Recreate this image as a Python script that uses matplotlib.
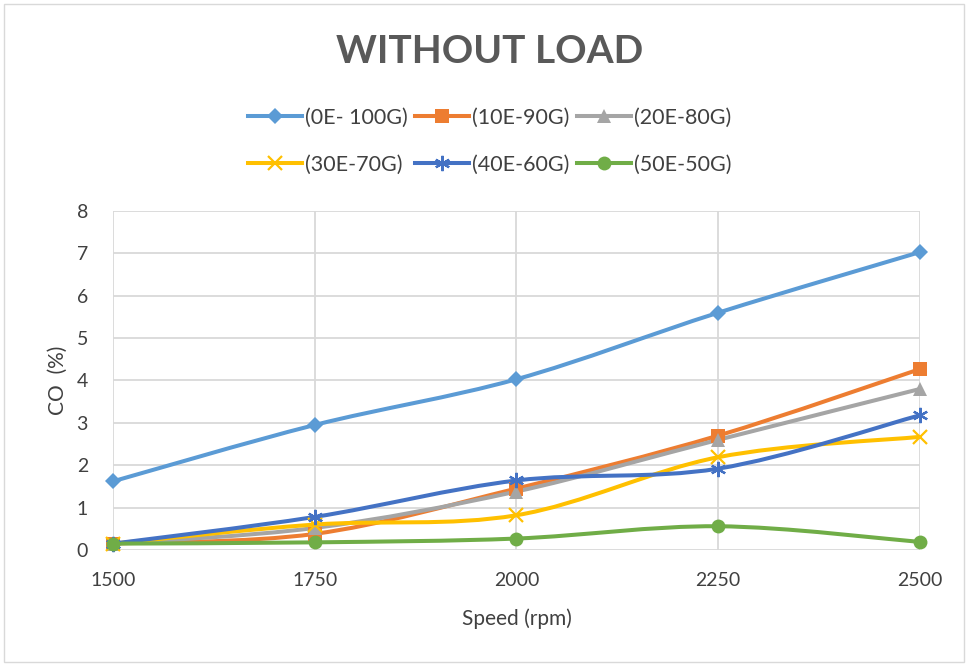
import numpy as np
import matplotlib.pyplot as plt
from matplotlib.path import Path
from matplotlib.patches import PathPatch, Rectangle
from matplotlib.lines import Line2D

plt.rcParams['font.family'] = ['Lato', 'DejaVu Sans']

# ---- data ----
speed = [1500, 1750, 2000, 2250, 2500]
series_names = ['(0E- 100G)', '(10E-90G)', '(20E-80G)',
                '(30E-70G)', '(40E-60G)', '(50E-50G)']
co_0e = [1.62, 2.95, 4.03, 5.60, 7.03]
co_10e = [0.15, 0.38, 1.45, 2.70, 4.27]
co_20e = [0.15, 0.52, 1.38, 2.60, 3.80]
co_30e = [0.15, 0.60, 0.82, 2.19, 2.67]
co_40e = [0.15, 0.78, 1.64, 1.92, 3.18]
co_50e = [0.15, 0.18, 0.27, 0.56, 0.19]
all_series = [co_0e, co_10e, co_20e, co_30e, co_40e, co_50e]

colors = ['#5B9BD5', '#ED7D31', '#A5A5A5', '#FFC000', '#4472C4', '#70AD47']
markers = ['D', 's', '^', 'x', (6, 2, 0), 'o']
msizes = [8, 10, 10, 10, 11, 10]
TXT = '#404040'


def smooth_path(xs, ys):
    # Excel-like smoothed line: cubic bezier segments (Catmull-Rom, tension 1/6)
    pts = np.column_stack([xs, ys]).astype(float)
    n = len(pts)
    verts = [pts[0]]
    codes = [Path.MOVETO]
    for i in range(n - 1):
        p0 = pts[i - 1] if i > 0 else pts[i]
        p1 = pts[i]
        p2 = pts[i + 1]
        p3 = pts[i + 2] if i + 2 < n else pts[i + 1]
        c1 = p1 + (p2 - p0) / 6.0
        c2 = p2 - (p3 - p1) / 6.0
        verts += [c1, c2, p2]
        codes += [Path.CURVE4] * 3
    return Path(verts, codes)


def mew_for(m):
    return 1.6 if m in ('x', (6, 2, 0)) else 0


fig = plt.figure(figsize=(9.68, 6.66), dpi=100)
ax = fig.add_axes([0.1167, 0.1742, 0.8337, 0.509])

for vals, c, m, ms in zip(all_series, colors, markers, msizes):
    patch = PathPatch(smooth_path(speed, vals), facecolor='none', edgecolor=c,
                      linewidth=2.9, capstyle='round', joinstyle='round', zorder=3)
    ax.add_patch(patch)
    ax.plot(speed, vals, linestyle='none', marker=m, markersize=ms,
            color=c, markeredgecolor=c, markeredgewidth=mew_for(m),
            zorder=4, clip_on=False)

ax.set_xlim(1500, 2500)
ax.set_ylim(0, 8)
ax.set_xticks(speed)
ax.set_yticks(range(0, 9))
ax.grid(True, color='#d9d9d9', linewidth=1.3)
ax.set_axisbelow(True)
for s in ax.spines.values():
    s.set_visible(False)
ax.tick_params(axis='both', length=0, labelsize=14, labelcolor=TXT)
ax.tick_params(axis='x', pad=16)
ax.tick_params(axis='y', pad=18)
ax.set_xlabel('Speed (rpm)', fontsize=15, color=TXT, labelpad=14)
ax.set_ylabel('CO  (%)', fontsize=15, color=TXT, labelpad=6)

fig.text(0.506, 0.922, 'WITHOUT LOAD', ha='center', va='center', fontsize=28,
         fontweight='bold', color='#595959')

# legend (row-major order like the reference -> reorder for column filling)
handles = [Line2D([], [], color=c, linewidth=2.9, marker=m, markersize=ms,
                  markeredgecolor=c, markeredgewidth=mew_for(m))
           for c, m, ms in zip(colors, markers, msizes)]
order = [0, 3, 1, 4, 2, 5]
fig.legend([handles[i] for i in order], [series_names[i] for i in order],
           loc='center', bbox_to_anchor=(0.506, 0.788),
           ncol=3, frameon=False, fontsize=15.5, handlelength=2.5,
           columnspacing=0.35, handletextpad=0.15, labelspacing=1.25,
           labelcolor=TXT)

fig.patches.append(Rectangle((0.004, 0.006), 0.992, 0.988, transform=fig.transFigure,
                             fill=False, edgecolor='#d9d9d9', linewidth=1.0))

fig.savefig('out.png', dpi=100, facecolor='white')
